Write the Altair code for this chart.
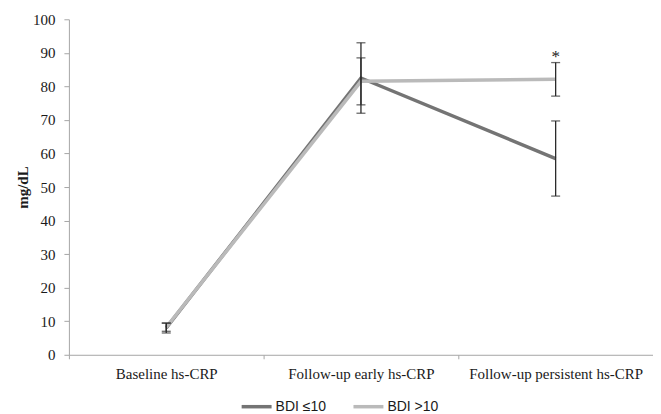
import altair as alt
import pandas as pd

categories = ["Baseline hs-CRP", "Follow-up early hs-CRP", "Follow-up persistent hs-CRP"]
groups = ["BDI ≤10", "BDI >10"]
low_mean = [8.0, 82.5, 58.5]
low_err = [1.5, 10.5, 11.2]
high_mean = [8.2, 81.5, 82.1]
high_err = [1.2, 7.0, 5.0]
star_cat = ["Follow-up persistent hs-CRP"]
star_y = [88.8]

rows = []
for i, c in enumerate(categories):
    rows.append({"cat": c, "group": groups[0], "mean": low_mean[i],
                 "lo": low_mean[i] - low_err[i], "hi": low_mean[i] + low_err[i]})
for i, c in enumerate(categories):
    rows.append({"cat": c, "group": groups[1], "mean": high_mean[i],
                 "lo": high_mean[i] - high_err[i], "hi": high_mean[i] + high_err[i]})
df = pd.DataFrame(rows)
df["order"] = df["group"].map({groups[0]: 0, groups[1]: 1})

star_df = pd.DataFrame({"cat": star_cat, "y": star_y, "t": ["*"]})

xscale = alt.Scale(domain=categories, paddingInner=0, paddingOuter=0)
xaxis = alt.Axis(labelAngle=0, tickBand="extent", tickSize=4, title=None,
                 domainColor="#a6a6a6", tickColor="#a6a6a6",
                 labelFont="Liberation Serif", labelFontSize=15,
                 labelColor="#1a1a1a", labelPadding=8, grid=False)
xenc = alt.X("cat:N", sort=categories, title=None, scale=xscale, axis=xaxis)
yscale = alt.Scale(domain=[0, 100])
yaxis = alt.Axis(values=list(range(0, 101, 10)), tickSize=5, grid=False,
                 labelOverlap=False,
                 domainColor="#a6a6a6", tickColor="#a6a6a6",
                 labelFont="Liberation Serif", labelFontSize=15,
                 labelColor="#1a1a1a", labelPadding=9,
                 title="mg/dL", titleFont="Liberation Serif", titleFontSize=15,
                 titleFontWeight="bold", titleColor="#1a1a1a", titlePadding=2)


def yenc(field):
    return alt.Y(field, scale=yscale, axis=yaxis, title="mg/dL")


color = alt.Color("group:N", scale=alt.Scale(domain=groups, range=["#747474", "#bababa"]),
                  legend=alt.Legend(title=None, orient="none", legendX=171, legendY=371,
                                    direction="horizontal", symbolType="stroke",
                                    symbolSize=900, symbolStrokeWidth=3.5,
                                    labelFont="Liberation Sans", labelFontSize=14,
                                    labelColor="#1a1a1a", columnPadding=20,
                                    labelOffset=2))

lines = alt.Chart(df).mark_line(strokeWidth=3.5).encode(
    x=xenc,
    y=yenc("mean:Q"),
    color=color,
    order=alt.Order("order:Q"),
    detail="group:N",
)

rules = alt.Chart(df).mark_rule(color="#2b2b2b", strokeWidth=1.3).encode(
    x=xenc, y=yenc("lo:Q"), y2="hi:Q",
)
caps_lo = alt.Chart(df).mark_tick(color="#2b2b2b", size=9, thickness=1.3).encode(
    x=xenc, y=yenc("lo:Q"))
caps_hi = alt.Chart(df).mark_tick(color="#2b2b2b", size=9, thickness=1.3).encode(
    x=xenc, y=yenc("hi:Q"))

star = alt.Chart(star_df).mark_text(font="Liberation Serif", fontSize=17,
                                    baseline="middle", color="#1a1a1a").encode(
    x=xenc, y=yenc("y:Q"), text="t:N")

chart = alt.layer(lines, rules, caps_lo, caps_hi, star).properties(
    width=585, height=336,
    background="white",
    autosize=alt.AutoSizeParams(type="none"),
    padding={"left": 61, "top": 11, "right": 0, "bottom": 59},
).configure_view(stroke=None)

chart.save("out.html", embed_options={"renderer": "svg", "actions": False})
